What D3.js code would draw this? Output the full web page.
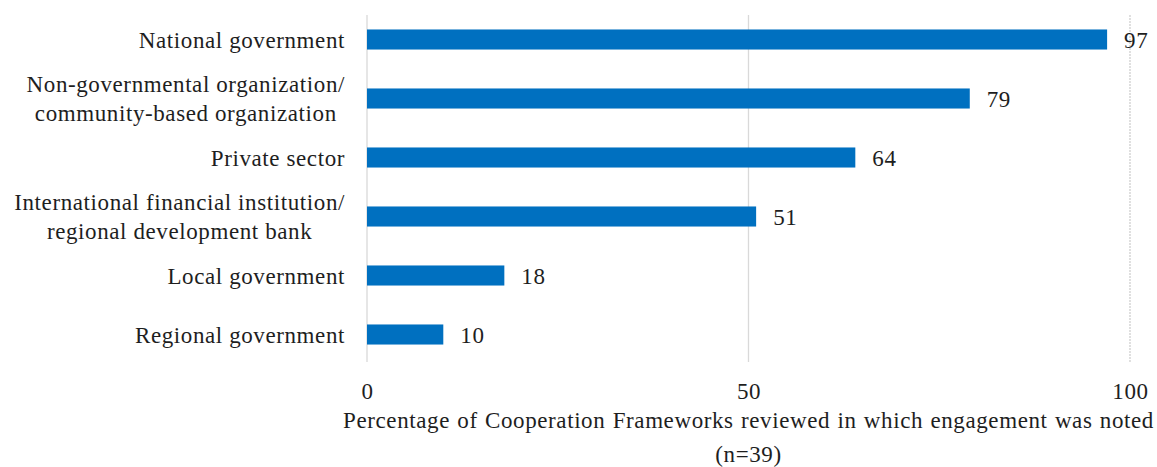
<!DOCTYPE html>
<html>
<head>
<meta charset="utf-8">
<script src="https://cdn.jsdelivr.net/npm/d3@7"></script>
<style>
  html, body { margin: 0; padding: 0; background: #fff; }
  svg text { font-family: "Liberation Serif", "Times New Roman", serif; fill: #1e1e1e; }
</style>
</head>
<body>
<svg id="chart" width="1157" height="467"></svg>
<script>
// Stakeholder groups engaged, as shown top to bottom
const categories = [
  ["National government"],
  ["Non-governmental organization/", "community-based organization "],
  ["Private sector "],
  ["International financial institution/", "regional development bank"],
  ["Local government"],
  ["Regional government"]
];
const values = [97, 79, 64, 51, 18, 10];
const xTicks = [0, 50, 100];
const axisTitle = ["Percentage of Cooperation Frameworks reviewed in which engagement was noted", "(n=39)"];

const svg = d3.select("#chart");
const fontSize = 23;
const spacing = 0.6;

const x = d3.scaleLinear().domain([0, 100]).range([367, 1130]);
const y = d3.scaleBand()
  .domain(d3.range(values.length))
  .range([10, 364])
  .paddingInner(0.66)
  .paddingOuter(0.33);

// vertical gridlines (the outer one is drawn lighter and dotted)
svg.append("g").selectAll("line")
  .data(xTicks)
  .join("line")
  .attr("x1", d => x(d)).attr("x2", d => x(d))
  .attr("y1", 15).attr("y2", 362)
  .attr("stroke", (d, i) => i === xTicks.length - 1 ? "#cfcfcf" : "#d9d9d9")
  .attr("stroke-dasharray", (d, i) => i === xTicks.length - 1 ? "2,1" : null)
  .attr("stroke-width", 1.3);

// bars
svg.append("g").selectAll("rect")
  .data(values)
  .join("rect")
  .attr("x", x(0))
  .attr("y", (d, i) => y(i))
  .attr("width", d => x(d) - x(0))
  .attr("height", y.bandwidth())
  .attr("fill", "#0070c0");

// value labels
svg.append("g").selectAll("text")
  .data(values)
  .join("text")
  .attr("x", d => x(d) + 17)
  .attr("y", (d, i) => y(i) + y.bandwidth() / 2 + 8)
  .attr("font-size", fontSize)
  .attr("letter-spacing", spacing)
  .text(d => d);

// category labels: right-aligned block, wrapped lines centred under the first
const rightEdge = 345;
const lineH = 29;
const catG = svg.append("g");
categories.forEach((lines, i) => {
  const cy = y(i) + y.bandwidth() / 2;
  const startY = cy + 8 - (lines.length - 1) * lineH / 2;
  const first = catG.append("text")
    .attr("font-size", fontSize)
    .attr("letter-spacing", spacing)
    .attr("text-anchor", "end")
    .attr("x", rightEdge)
    .attr("y", startY)
    .text(lines[0]);
  if (lines.length > 1) {
    const w = first.node().getComputedTextLength();
    const mid = rightEdge - w / 2;
    first.attr("text-anchor", "middle").attr("x", mid);
    lines.slice(1).forEach((t, k) => {
      catG.append("text")
        .attr("font-size", fontSize)
        .attr("letter-spacing", spacing)
        .attr("text-anchor", "middle")
        .attr("x", mid)
        .attr("y", startY + (k + 1) * lineH)
        .text(t);
    });
  }
});

// x axis tick labels
const xAxis = d3.axisBottom(x).tickValues(xTicks).tickSize(0).tickPadding(0);
const axG = svg.append("g").attr("transform", "translate(0,380)").call(xAxis);
axG.select(".domain").remove();
axG.selectAll("text")
  .attr("font-size", fontSize)
  .attr("letter-spacing", spacing)
  .attr("dy", null)
  .attr("y", 19)
  .attr("fill", "#1e1e1e");

// axis title
svg.append("g").selectAll("text")
  .data(axisTitle)
  .join("text")
  .attr("x", x(50))
  .attr("y", (d, i) => 428 + i * 34)
  .attr("text-anchor", "middle")
  .attr("font-size", fontSize)
  .attr("letter-spacing", spacing)
  .attr("word-spacing", 1)
  .text(d => d);
</script>
</body>
</html>
